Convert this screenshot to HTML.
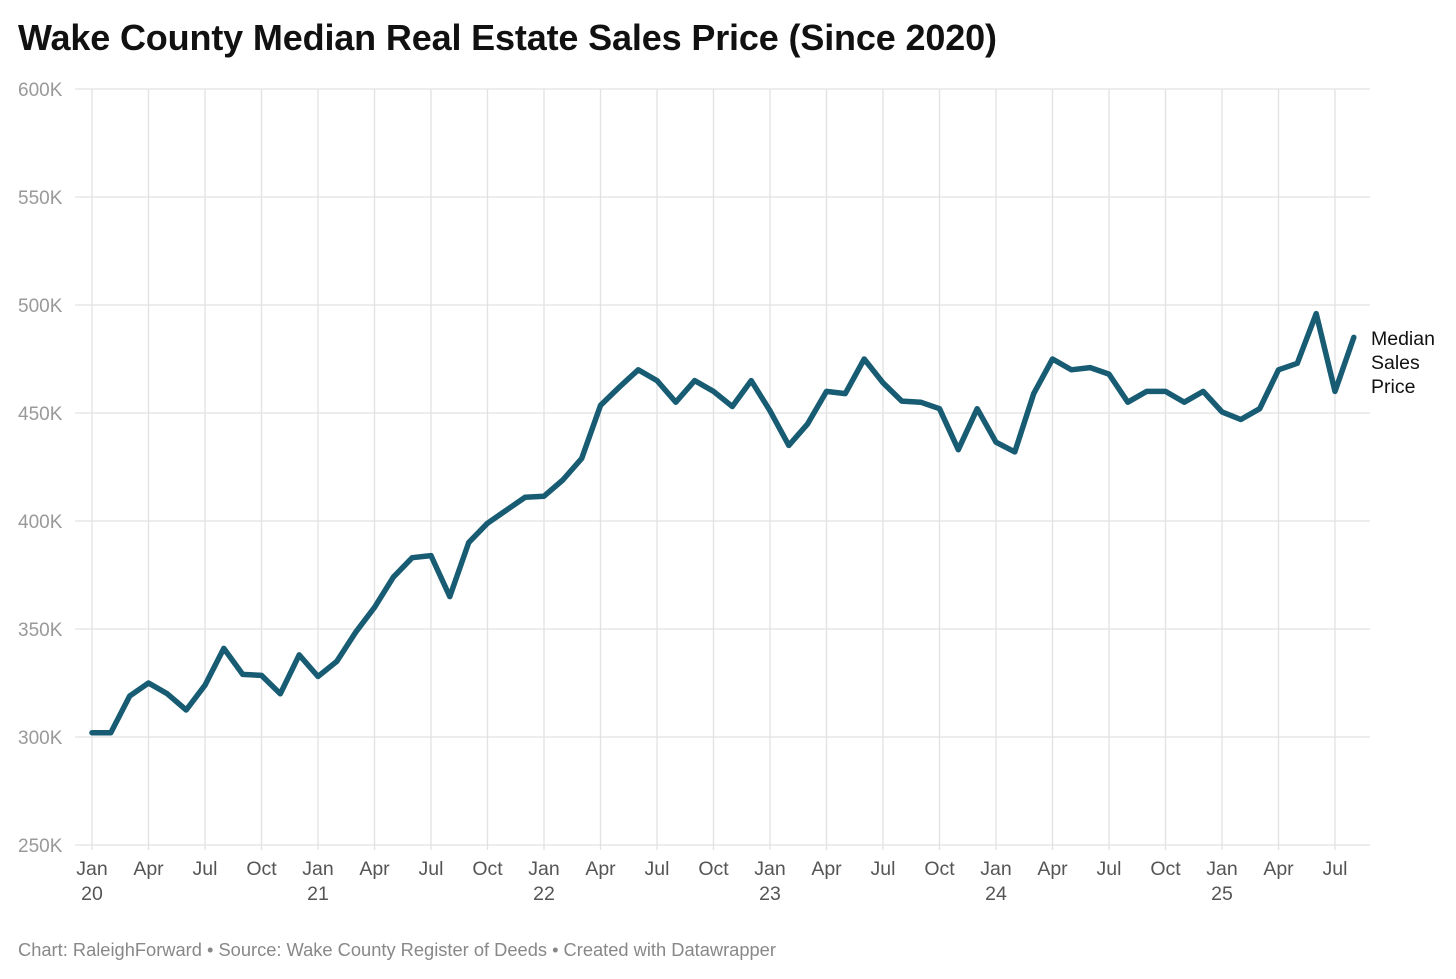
<!DOCTYPE html>
<html><head><meta charset="utf-8">
<style>
body{margin:0;background:#fff;width:1456px;height:979px;overflow:hidden;font-family:"Liberation Sans",sans-serif;}
#title{position:absolute;left:18px;top:17px;font-size:36px;font-weight:bold;color:#111;letter-spacing:-0.15px;}
#footer{position:absolute;left:18px;top:939px;font-size:18.3px;color:#888;}
svg{position:absolute;left:0;top:0;}
</style></head><body>
<div id="title">Wake County Median Real Estate Sales Price (Since 2020)</div>
<svg id="chart" width="1456" height="979"></svg>
<div id="footer">Chart: RaleighForward • Source: Wake County Register of Deeds • Created with Datawrapper</div>
<script>
const values=[302,302,319,325,320,312.5,324,341,329,328.5,320,338,
328,335,348.5,360,374,383,384,365,390,399,405,411,
411.5,419,429,453.5,462,470,465,455,465,460,453,465,
451,435,445,460,459,475,464,455.5,455,452,433,452,
436.5,432,459,475,470,471,468,455,460,460,455,460,
450.5,447,452,470,473,496,460,485];
const yTicks=[250,300,350,400,450,500,550,600];
const xTickMonths=[0,3,6,9,12,15,18,21,24,27,30,33,36,39,42,45,48,51,54,57,60,63,66];
const monthNames=["Jan","Apr","Jul","Oct"];
const years=["20","21","22","23","24","25"];

const svg=document.getElementById('chart');
const NS='http://www.w3.org/2000/svg';
const x=m=>92+m*(1222-92)/60;
const y=v=>845-(v-250)*(845-89)/350;
function mk(t,a){const e=document.createElementNS(NS,t);for(const k in a)e.setAttribute(k,a[k]);svg.appendChild(e);return e;}

yTicks.forEach(v=>{
  const l=mk('line',{x1:75,x2:1370,y1:y(v),y2:y(v),stroke:'#e2e2e2','stroke-width':1.3});
  
  
  const t=mk('text',{x:18,y:y(v)+7,'font-size':19,fill:'#999'});
  t.textContent=v+'K';
  
  
});
xTickMonths.forEach(m=>{
  const l=mk('line',{x1:x(m),x2:x(m),y1:89,y2:850,stroke:'#e2e2e2','stroke-width':1.3});
  
  
  const t=mk('text',{x:x(m),y:875,'font-size':19.5,fill:'#555','text-anchor':'middle'});
  t.textContent=monthNames[(m/3)%4];
  
  
  if(m%12===0){
    const t2=mk('text',{x:x(m),y:900,'font-size':19.5,fill:'#555','text-anchor':'middle'});
    t2.textContent=years[m/12];
    
    
  }
});
const pts=values.map((v,i)=>x(i).toFixed(1)+','+y(v).toFixed(1)).join(' ');
const line=mk('polyline',{points:pts,fill:'none',stroke:'#175c73','stroke-width':5.5,'stroke-linejoin':'round','stroke-linecap':'round'});


const lab=mk('text',{x:1371,y:345,'font-size':19.5,fill:'#111'});


["Median","Sales","Price"].forEach((w,i)=>{const ts=document.createElementNS(NS,'tspan');ts.setAttribute('x',1371);ts.setAttribute('y',345+i*24);ts.textContent=w;lab.appendChild(ts);});
</script>
</body></html>
